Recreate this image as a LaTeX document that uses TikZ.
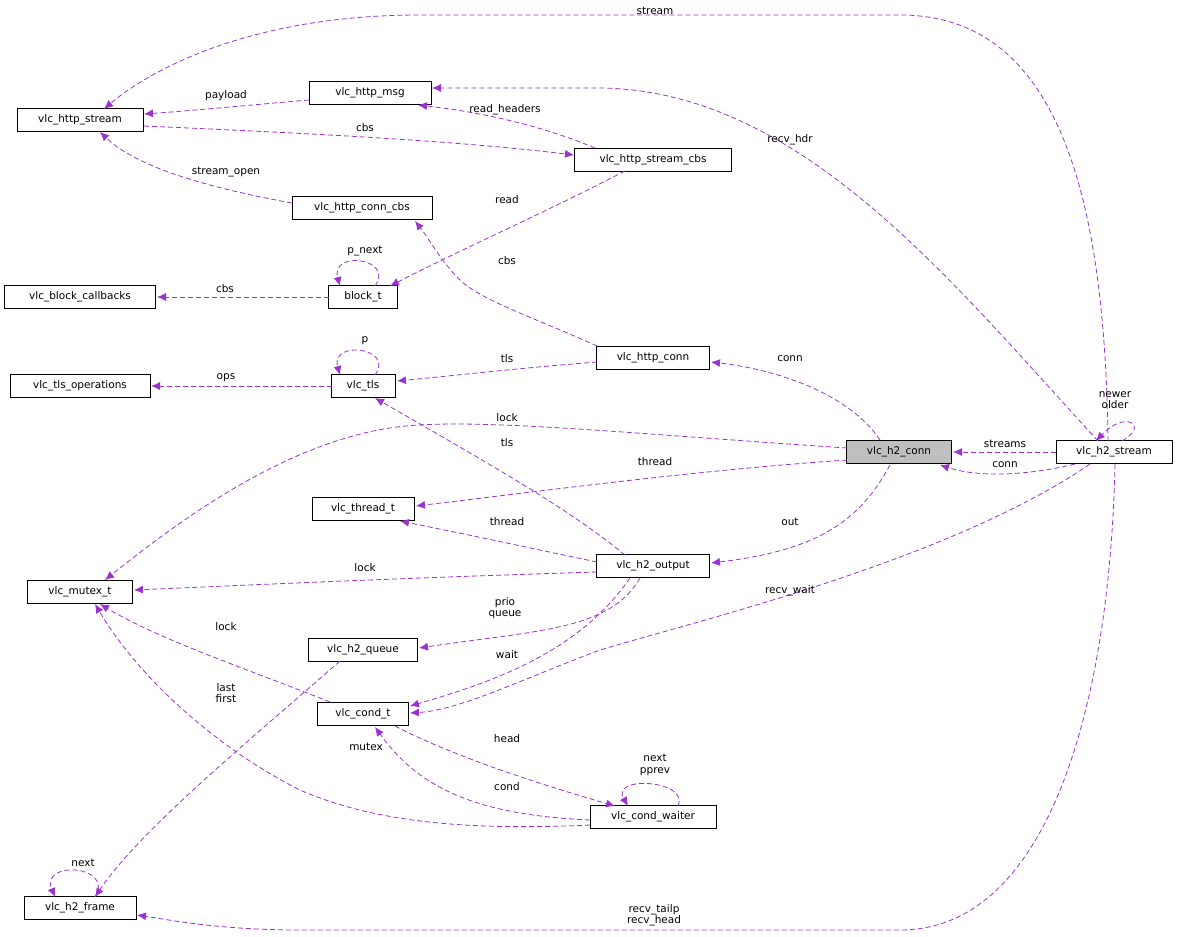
\documentclass[tikz,border=0pt]{standalone}
\usepackage{fontspec}
\setmainfont{DejaVu Sans}
\usetikzlibrary{arrows.meta}
\begin{document}
\begin{tikzpicture}[x=1pt,y=-1pt,
 box/.style={draw,line width=1pt,minimum height=23pt,inner xsep=4pt,font=\fontsize{10.5}{11}\selectfont,anchor=center},
 lbl/.style={font=\fontsize{10.5}{11.5}\selectfont,align=center,inner sep=0pt},
 e/.style={draw={rgb,255:red,154;green,50;blue,205},dash pattern=on 5pt off 3pt,-{Latex[length=9pt,width=8pt]},line width=0.8pt}]
\useasboundingbox (0,0) rectangle (1179,937);
\node[box,minimum width=126pt] (hs) at (80,120) {vlc\_http\_stream};
\node[box,minimum width=122pt] (hm) at (370,93) {vlc\_http\_msg};
\node[box,minimum width=157pt] (hsc) at (653,160) {vlc\_http\_stream\_cbs};
\node[box,minimum width=140pt] (hcc) at (362,208) {vlc\_http\_conn\_cbs};
\node[box,minimum width=151pt] (bc) at (80,297) {vlc\_block\_callbacks};
\node[box,minimum width=69pt] (bt) at (363,297) {block\_t};
\node[box,minimum width=140pt] (to) at (80,386) {vlc\_tls\_operations};
\node[box,minimum width=64pt] (tls) at (363,386) {vlc\_tls};
\node[box,minimum width=113pt] (hc) at (653,358) {vlc\_http\_conn};
\node[box,minimum width=105pt,fill={rgb,255:red,191;green,191;blue,191}] (h2c) at (899,452) {vlc\_h2\_conn};
\node[box,minimum width=116pt] (h2s) at (1114,452) {vlc\_h2\_stream};
\node[box,minimum width=102pt] (th) at (363,509) {vlc\_thread\_t};
\node[box,minimum width=113pt] (ho) at (653,566) {vlc\_h2\_output};
\node[box,minimum width=105pt] (mx) at (80,592) {vlc\_mutex\_t};
\node[box,minimum width=109pt] (hq) at (363,650) {vlc\_h2\_queue};
\node[box,minimum width=91pt] (ct) at (363,714) {vlc\_cond\_t};
\node[box,minimum width=126pt] (cw) at (653,817) {vlc\_cond\_waiter};
\node[box,minimum width=112pt] (hf) at (80,908) {vlc\_h2\_frame};

\path[e] (1108,441) .. controls (1105,200) and (1060,15) .. (900,15) -- (420,15) .. controls (250,15) and (150,70) .. (104,109);
\node[lbl] at (655,11) {stream};
\path[e] (1098,441) .. controls (950,280) and (800,90) .. (600,88) -- (432,88);
\node[lbl] at (790,140) {recv\_hdr};
\path[e] (309,100) .. controls (250,105) and (200,110) .. (144,114);
\node[lbl] at (226,96) {payload};
\path[e] (144,126) .. controls (300,133) and (450,140) .. (574,155);
\node[lbl] at (365,128) {cbs};
\path[e] (595,148) .. controls (540,125) and (480,112) .. (418,105);
\node[lbl] at (505,110) {read\_headers};
\path[e] (625,171) .. controls (550,210) and (460,250) .. (390,286);
\node[lbl] at (507,200) {read};
\path[e] (292,203) .. controls (220,190) and (140,170) .. (100,132);
\node[lbl] at (226,172) {stream\_open};
\path[e] (597,346) .. controls (540,320) and (480,300) .. (460,280) .. controls (440,260) and (430,240) .. (415,221);
\node[lbl] at (507,261) {cbs};
\path[e] (375,286) .. controls (395,258) and (330,250) .. (340,286);
\node[lbl] at (365,251) {p\_next};
\path[e] (329,297) -- (157,297);
\node[lbl] at (225,289) {cbs};
\path[e] (375,375) .. controls (395,347) and (330,340) .. (340,375);
\node[lbl] at (365,341) {p};
\path[e] (332,386) -- (151,386);
\node[lbl] at (226,378) {ops};
\path[e] (597,362) .. controls (520,368) and (460,375) .. (397,381);
\node[lbl] at (507,359) {tls};
\path[e] (880,440) .. controls (850,395) and (780,370) .. (711,362);
\node[lbl] at (790,359) {conn};
\path[e] (847,448) .. controls (650,435) and (500,420) .. (420,425) .. controls (300,430) and (180,520) .. (105,580);
\node[lbl] at (507,418) {lock};
\path[e] (625,555) .. controls (570,510) and (500,470) .. (375,398);
\node[lbl] at (507,443) {tls};
\path[e] (847,460) .. controls (700,470) and (550,490) .. (416,506);
\node[lbl] at (655,462) {thread};
\path[e] (1056,452) -- (953,452);
\node[lbl] at (1005,444) {streams};
\path[e] (1075,464) .. controls (1030,475) and (980,478) .. (940,465);
\node[lbl] at (1005,465) {conn};
\path[e] (1122,441) .. controls (1150,425) and (1125,410) .. (1096,441);
\node[lbl] at (1115,400) {newer\\older};
\path[e] (597,562) .. controls (530,548) and (470,535) .. (400,521);
\node[lbl] at (507,522) {thread};
\path[e] (890,465) .. controls (860,520) and (820,550) .. (711,563);
\node[lbl] at (790,522) {out};
\path[e] (597,572) .. controls (400,578) and (250,585) .. (134,590);
\node[lbl] at (365,568) {lock};
\path[e] (1090,464) .. controls (950,560) and (700,620) .. (600,650) .. controls (520,680) and (460,710) .. (410,713);
\node[lbl] at (790,591) {recv\_wait};
\path[e] (640,578) .. controls (610,630) and (540,630) .. (419,648);
\node[lbl] at (505,608) {prio\\queue};
\path[e] (630,578) .. controls (580,650) and (500,680) .. (410,706);
\node[lbl] at (507,655) {wait};
\path[e] (330,702) .. controls (250,670) and (160,640) .. (100,604);
\node[lbl] at (226,627) {lock};
\path[e] (340,661) .. controls (250,740) and (140,830) .. (95,897);
\node[lbl] at (226,693) {last\\first};
\path[e] (395,726) .. controls (460,760) and (560,790) .. (615,806);
\node[lbl] at (507,739) {head};
\path[e] (678,806) .. controls (690,780) and (610,775) .. (628,806);
\node[lbl] at (655,765) {next\\pprev};
\path[e] (590,820) .. controls (480,815) and (420,790) .. (375,727);
\node[lbl] at (507,787) {cond};
\path[e] (590,825) .. controls (480,830) and (380,825) .. (300,790) .. controls (220,750) and (140,680) .. (95,604);
\node[lbl] at (366,747) {mutex};
\path[e] (95,897) .. controls (115,865) and (40,860) .. (55,897);
\node[lbl] at (83,863) {next};
\path[e] (1115,464) .. controls (1110,700) and (1050,930) .. (900,930) -- (300,930) .. controls (220,930) and (170,920) .. (137,915);
\node[lbl] at (654,915) {recv\_tailp\\recv\_head};
\end{tikzpicture}
\end{document}
